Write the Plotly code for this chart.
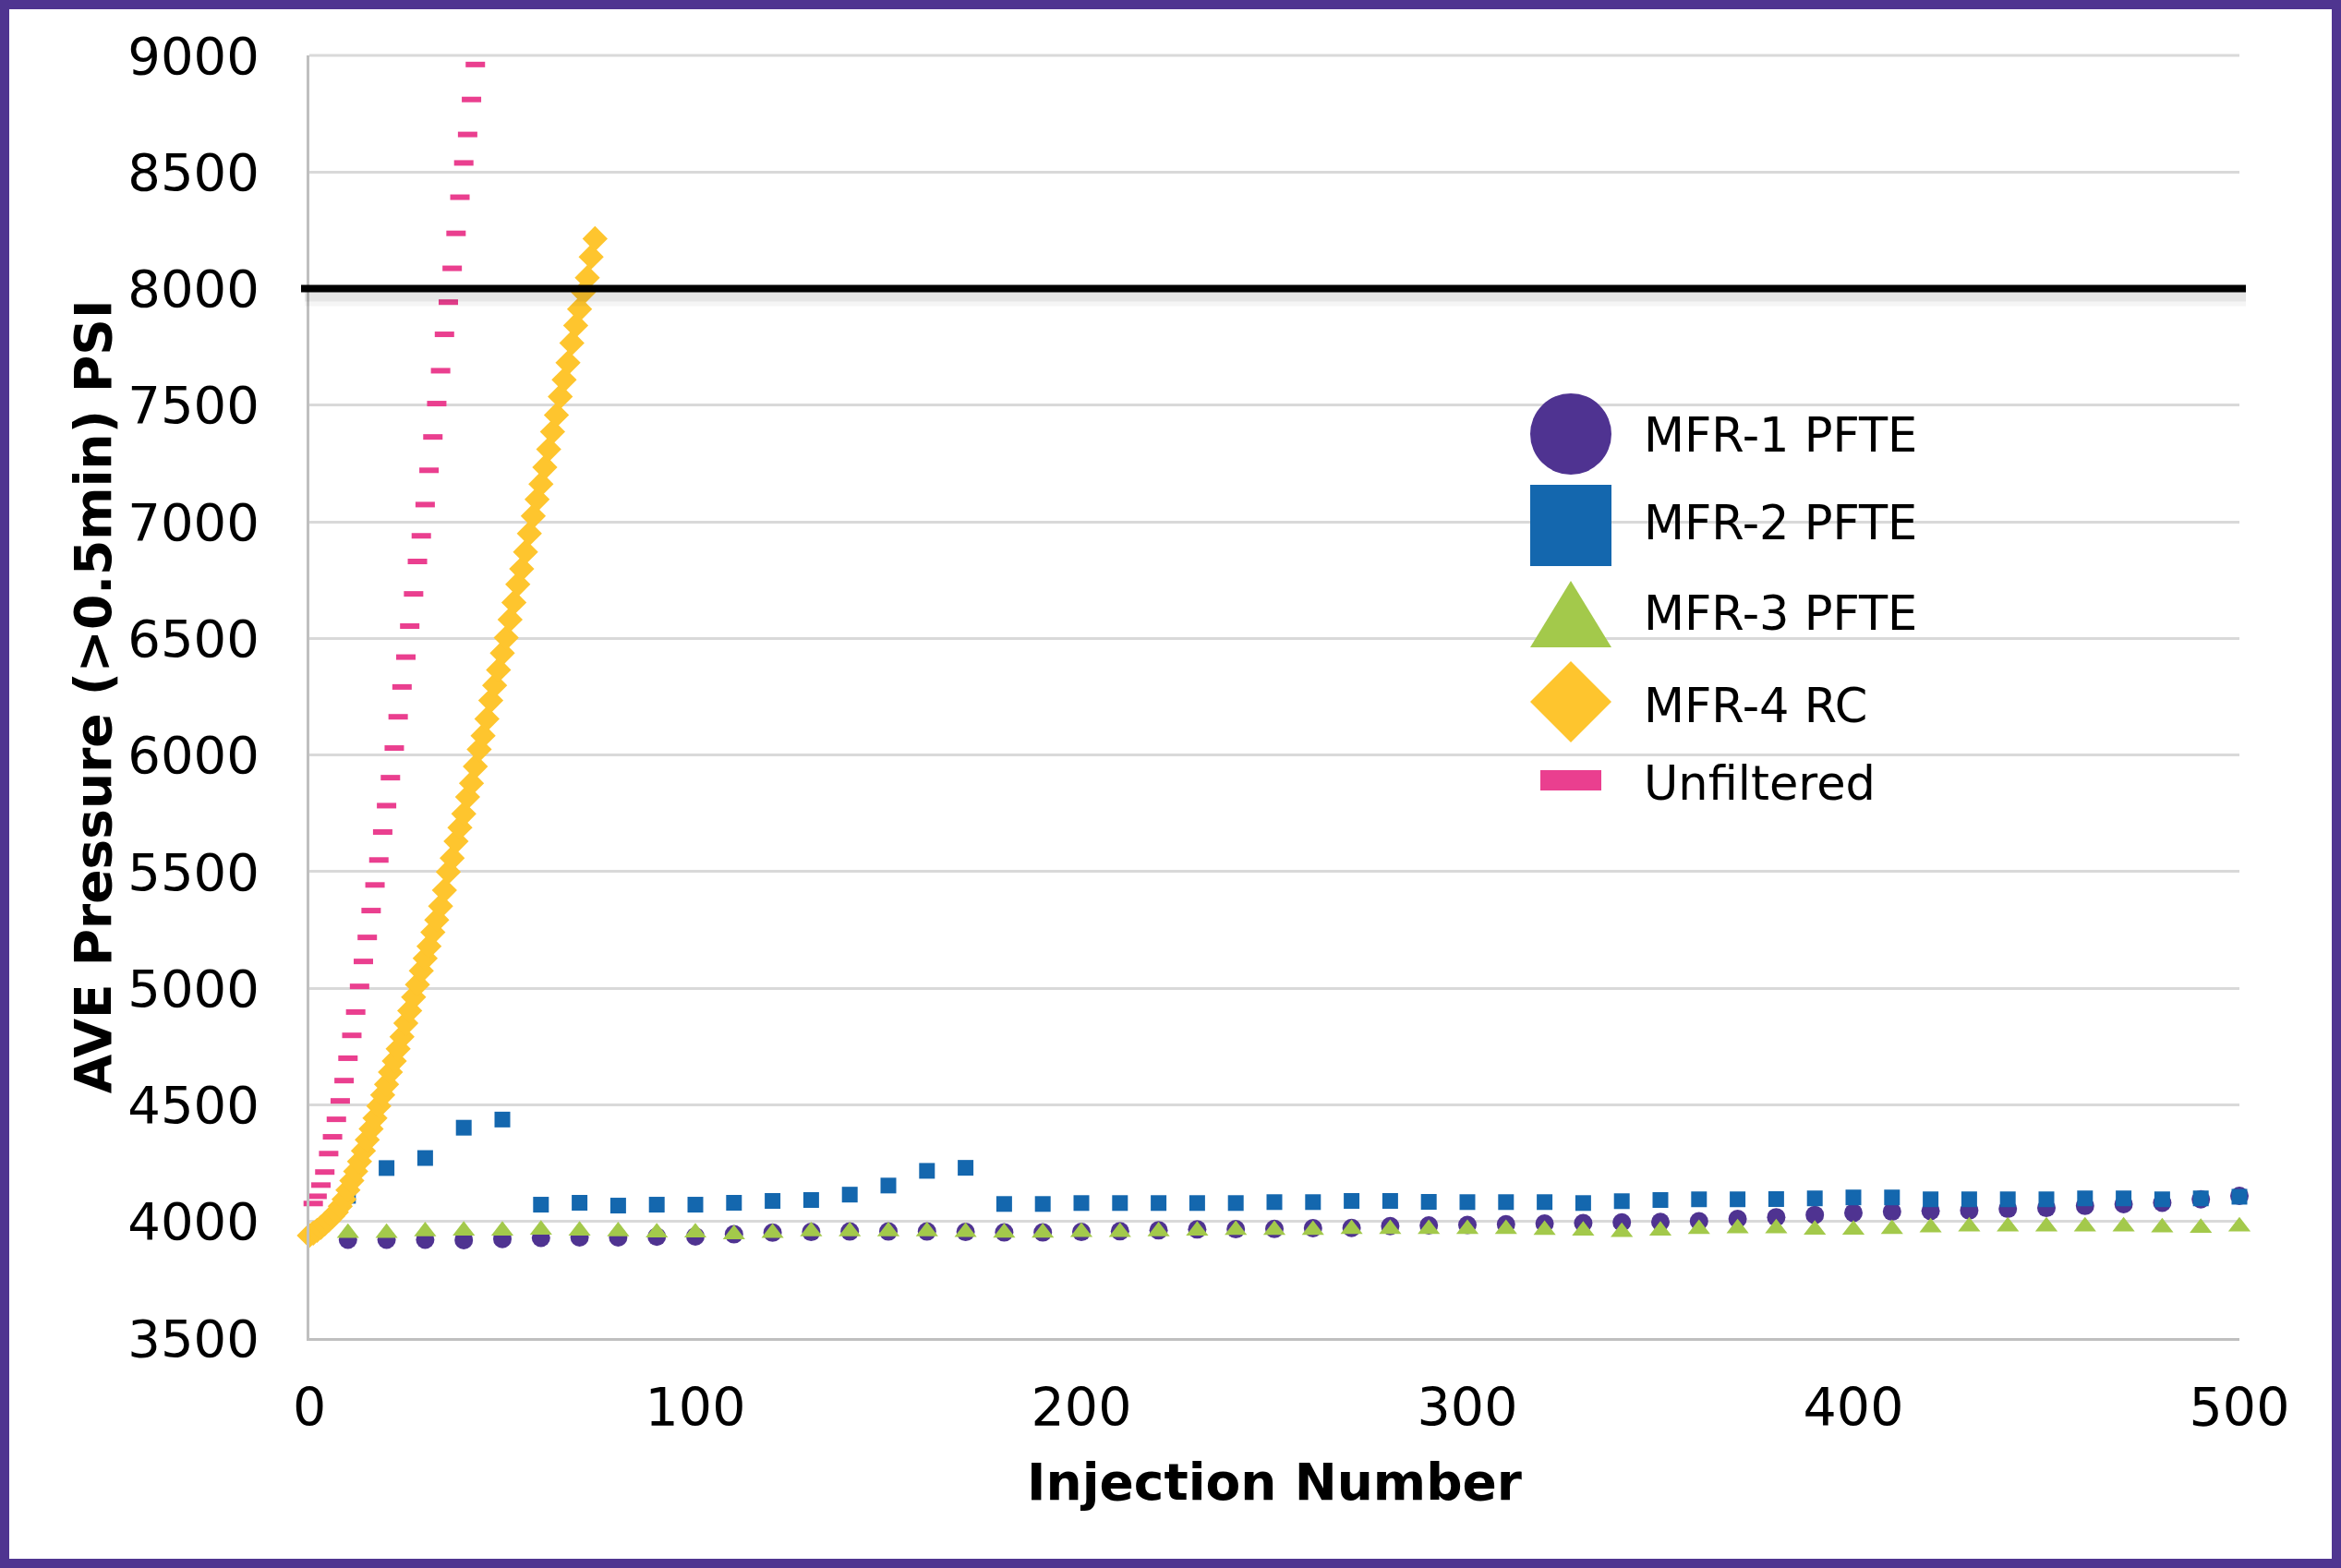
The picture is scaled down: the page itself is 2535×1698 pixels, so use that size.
import plotly.graph_objects as go

# ---------------- data ----------------
inj_10 = list(range(10, 510, 10))          # MFR-1..3 sampled every 10 injections

mfr1_pfte = [3922, 3922, 3922, 3920, 3925, 3930, 3932, 3932, 3935, 3936,
             3945, 3952, 3955, 3957, 3957, 3957, 3955, 3953, 3953, 3955,
             3958, 3962, 3966, 3967, 3968, 3971, 3972, 3980, 3983, 3985,
             3988, 3991, 3993, 3996, 3998, 4001, 4011, 4018, 4028, 4037,
             4042, 4045, 4047, 4054, 4058, 4067, 4074, 4080, 4095, 4110]

mfr2_pfte = [4110, 4229, 4272, 4402, 4437, 4072, 4080, 4068, 4072, 4072,
             4080, 4088, 4092, 4115, 4154, 4217, 4230, 4075, 4075, 4079,
             4079, 4079, 4079, 4079, 4083, 4083, 4088, 4088, 4084, 4083,
             4083, 4083, 4079, 4087, 4092, 4095, 4095, 4096, 4099, 4103,
             4103, 4095, 4095, 4095, 4095, 4099, 4099, 4095, 4099, 4106]

mfr3_pfte = [3950, 3950, 3957, 3960, 3960, 3964, 3960, 3957, 3952, 3952,
             3944, 3950, 3957, 3957, 3957, 3957, 3954, 3951, 3951, 3954,
             3954, 3957, 3960, 3963, 3963, 3963, 3967, 3967, 3967, 3967,
             3967, 3963, 3960, 3954, 3960, 3967, 3970, 3970, 3964, 3964,
             3967, 3974, 3978, 3978, 3978, 3978, 3978, 3974, 3972, 3978]

rc_inj = list(range(0, 75))
mfr4_rc = [3940, 3950, 3962, 3975, 3990, 4005, 4022, 4040, 4065, 4095,
           4135, 4175, 4215, 4257, 4303, 4350, 4397, 4443, 4495, 4542,
           4588, 4640, 4688, 4740, 4792, 4850, 4904, 4962, 5016, 5075,
           5128, 5180, 5240, 5293, 5352, 5420, 5499, 5558, 5630, 5689,
           5748, 5820, 5879, 5951, 6024, 6083, 6155, 6234, 6299, 6365,
           6437, 6503, 6581, 6654, 6732, 6798, 6871, 6950, 7025, 7096,
           7162, 7234, 7311, 7386, 7458, 7537, 7609, 7682, 7767, 7842,
           7912, 7984, 8047, 8136, 8214]

unf_inj = list(range(1, 44))
unfiltered = [4077, 4108, 4156, 4212, 4291, 4363, 4438, 4517, 4604, 4700,
              4798, 4898, 5008, 5115, 5218, 5333, 5443, 5550, 5670, 5783,
              5903, 6030, 6164, 6292, 6420, 6553, 6691, 6830, 6940, 7074,
              7221, 7364, 7507, 7648, 7804, 7942, 8087, 8237, 8392, 8539,
              8661, 8811, 8961]

series_names = ["MFR-1 PFTE", "MFR-2 PFTE", "MFR-3 PFTE", "MFR-4 RC", "Unfiltered"]
x_ticks = [0, 100, 200, 300, 400, 500]
THRESHOLD = 8000

# ---------------- styling ----------------
W, H = 2535, 1698
ML, MR, MT, MB = 335, 110, 60, 249
PW, PH = W - ML - MR, H - MT - MB
FONT = "DejaVu Sans"

PURPLE = "#4F3391"
BLUE = "#1467AE"
GREEN = "#A3C94B"
YELLOW = "#FEC52E"
PINK = "#EA3F8F"
BORDER = "#4F3590"
GRID = "#D9D9D9"

styles = [
    dict(symbol="circle", size=20, color=PURPLE),
    dict(symbol="square", size=17, color=BLUE),
    dict(symbol="triangle-up", size=21, color=GREEN),
    dict(symbol="diamond", size=21, color=YELLOW),
    dict(symbol="line-ew", size=15, color=PINK, line=dict(color=PINK, width=6)),
]
xs = [inj_10, inj_10, inj_10, rc_inj, unf_inj]
ys = [mfr1_pfte, mfr2_pfte, mfr3_pfte, mfr4_rc, unfiltered]

fig = go.Figure()
for name, x, y, st in zip(series_names, xs, ys, styles):
    mk = dict(st)
    if "line" not in mk:
        mk["line"] = dict(width=0)
    fig.add_trace(go.Scatter(x=x, y=y, mode="markers", name=name, marker=mk,
                             cliponaxis=False, showlegend=False))

def px_x(X):
    return (X - ML) / PW

def px_y(Y):
    return 1 - (Y - MT) / PH

shapes = []
# top gridline (plotly leaves the one at the range end out)
shapes.append(dict(type="line", xref="paper", yref="paper", x0=0, x1=1, y0=1, y1=1,
                   line=dict(color=GRID, width=3), layer="below"))
# 8000 psi limit line with a soft shadow
psi_per_px = 5500 / PH
for off, wd, alpha in [(10, 18, 0.04), (8, 12, 0.06)]:
    shapes.append(dict(type="line", xref="paper", yref="y", x0=px_x(330), x1=px_x(2432),
                       y0=THRESHOLD - off * psi_per_px, y1=THRESHOLD - off * psi_per_px,
                       line=dict(color=f"rgba(0,0,0,{alpha})", width=wd), layer="above"))
shapes.append(dict(type="line", xref="paper", yref="y", x0=px_x(326), x1=px_x(2432),
                   y0=THRESHOLD, y1=THRESHOLD,
                   line=dict(color="black", width=8), layer="above"))

# custom legend with large symbols
LEG_X = 1701
TXT_X = 1778
sym_rows = [470, 569, 665, 760, 845]
txt_rows = [471, 566, 664, 764, 848]
R = 44
legend_glyphs = [
    dict(type="circle", x0=-R, x1=R, y0=-R, y1=R, fillcolor=PURPLE),
    dict(type="rect", x0=-R, x1=R, y0=-R, y1=R, fillcolor=BLUE),
    dict(type="path", path=f"M{-R},{-36} L{R},{-36} L0,{36} Z", fillcolor=GREEN),
    dict(type="path", path=f"M{-R},0 L0,{R} L{R},0 L0,{-R} Z", fillcolor=YELLOW),
    dict(type="rect", x0=-33, x1=33, y0=-11, y1=11, fillcolor=PINK),
]
for g, yrow in zip(legend_glyphs, sym_rows):
    g.update(xref="paper", yref="paper", xsizemode="pixel", ysizemode="pixel",
             xanchor=px_x(LEG_X), yanchor=px_y(yrow), line=dict(width=0), layer="above")
    shapes.append(g)

# purple frame round the whole picture
bw = 10
shapes.append(dict(type="rect", xref="paper", yref="paper",
                   x0=px_x(bw / 2), x1=px_x(W - bw / 2),
                   y0=px_y(H - bw / 2), y1=px_y(bw / 2),
                   line=dict(color=BORDER, width=bw), layer="above"))

annotations = []
for name, yrow in zip(series_names, txt_rows):
    annotations.append(dict(text=name, xref="paper", yref="paper", x=px_x(TXT_X), y=px_y(yrow),
                            xanchor="left", yanchor="middle", showarrow=False,
                            font=dict(family=FONT, size=51, color="black")))

fig.update_layout(
    width=W, height=H,
    margin=dict(l=ML, r=MR, t=MT, b=MB, autoexpand=False),
    paper_bgcolor="white", plot_bgcolor="white",
    font=dict(family=FONT, color="black"),
    shapes=shapes, annotations=annotations,
    showlegend=False,
)
fig.update_xaxes(
    range=[0, 500], tickvals=x_ticks, showgrid=False, zeroline=False,
    showline=True, linecolor="#BFBFBF", linewidth=3, ticks="",
    tickfont=dict(family=FONT, size=57, color="black"), ticklabelstandoff=24,
    title=dict(text="<b>Injection Number</b>", font=dict(family=FONT, size=55, color="black"), standoff=30),
)
fig.update_yaxes(
    range=[3500, 9000], dtick=500, tick0=3500, tickformat="d",
    showgrid=True, gridcolor=GRID, gridwidth=3, zeroline=False,
    showline=True, linecolor="#BFBFBF", linewidth=3, ticks="",
    tickfont=dict(family=FONT, size=56, color="black"), ticklabelstandoff=40,
    title=dict(text="<b>AVE Pressure (>0.5min) PSI</b>", font=dict(family=FONT, size=55, color="black"), standoff=1),
)

fig.write_html("out.html", config={"displayModeBar": False},
               post_script="document.body.style.margin='0';document.body.style.overflow='hidden';")
